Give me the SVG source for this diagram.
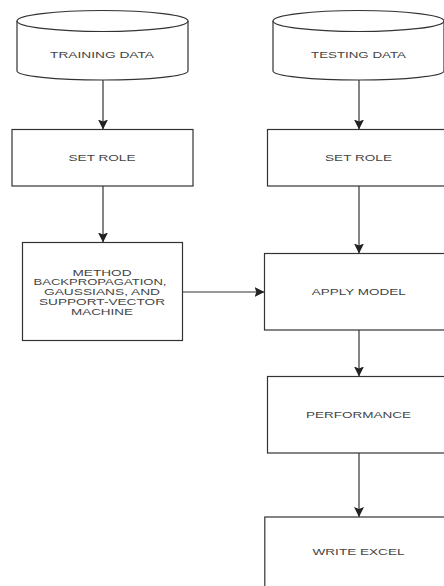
<svg xmlns="http://www.w3.org/2000/svg" width="444" height="586" viewBox="0 0 444 586">
<style>
.shape{fill:#ffffff;stroke:#333333;stroke-width:1.2}
.edge{fill:none;stroke:#333333;stroke-width:1.2}
text{font-family:"Liberation Sans",Arial,sans-serif;font-size:8.6px;fill:#444444;text-anchor:middle;dominant-baseline:central}
</style>
<defs>
<marker id="arr" markerUnits="userSpaceOnUse" markerWidth="10" markerHeight="10" viewBox="0 0 8 8" refX="8" refY="4" orient="auto">
<path d="M0,0 L8,4 L0,8 L1.5,4 Z" fill="#222222"/>
</marker>
</defs>
<rect width="444" height="586" fill="#ffffff"/>
<g id="connectors">
<line class="edge" x1="103" y1="80" x2="103" y2="129.5" marker-end="url(#arr)"/>
<line class="edge" x1="359" y1="80" x2="359" y2="129.5" marker-end="url(#arr)"/>
<line class="edge" x1="103" y1="186" x2="103" y2="242.5" marker-end="url(#arr)"/>
<line class="edge" x1="359" y1="186" x2="359" y2="253.5" marker-end="url(#arr)"/>
<line class="edge" x1="182.5" y1="292" x2="264.5" y2="292" marker-end="url(#arr)"/>
<line class="edge" x1="359" y1="330" x2="359" y2="376.5" marker-end="url(#arr)"/>
<line class="edge" x1="359" y1="453" x2="359" y2="517" marker-end="url(#arr)"/>
</g>
<g id="training-data">
<path class="shape" d="M17,21 A85.5,10.5 0 0 1 188,21 L188,71 A85.5,9 0 0 1 17,71 Z"/>
<path class="edge" d="M17,21 A85.5,10.5 0 0 0 188,21"/>
<text x="102" y="55" textLength="104" lengthAdjust="spacingAndGlyphs">TRAINING DATA</text>
</g>
<g id="testing-data">
<path class="shape" d="M273,21 A85.5,10.5 0 0 1 444,21 L444,71 A85.5,9 0 0 1 273,71 Z"/>
<path class="edge" d="M273,21 A85.5,10.5 0 0 0 444,21"/>
<text x="358.5" y="55" textLength="95" lengthAdjust="spacingAndGlyphs">TESTING DATA</text>
</g>
<g id="set-role-train">
<rect class="shape" x="12" y="129.5" width="181" height="56.5"/>
<text x="102" y="158.3" textLength="67" lengthAdjust="spacingAndGlyphs">SET ROLE</text>
</g>
<g id="set-role-test">
<rect class="shape" x="267.5" y="129.5" width="182" height="56.5"/>
<text x="358.5" y="158.3" textLength="67" lengthAdjust="spacingAndGlyphs">SET ROLE</text>
</g>
<g id="method">
<rect class="shape" x="22.5" y="242.5" width="160" height="98"/>
<text x="102" y="272.5" textLength="59" lengthAdjust="spacingAndGlyphs">METHOD</text>
<text x="100" y="282.3" textLength="133" lengthAdjust="spacingAndGlyphs">BACKPROPAGATION,</text>
<text x="102" y="292" textLength="116" lengthAdjust="spacingAndGlyphs">GAUSSIANS, AND</text>
<text x="102" y="301.7" textLength="126" lengthAdjust="spacingAndGlyphs">SUPPORT-VECTOR</text>
<text x="102" y="311.5" textLength="62" lengthAdjust="spacingAndGlyphs">MACHINE</text>
</g>
<g id="apply-model">
<rect class="shape" x="264.5" y="253.5" width="190" height="76.5"/>
<text x="358.8" y="291.7" textLength="94" lengthAdjust="spacingAndGlyphs">APPLY MODEL</text>
</g>
<g id="performance">
<rect class="shape" x="267.5" y="376.5" width="183" height="76.5"/>
<text x="358.5" y="415" textLength="105" lengthAdjust="spacingAndGlyphs">PERFORMANCE</text>
</g>
<g id="write-excel">
<rect class="shape" x="264.8" y="517" width="190" height="80"/>
<text x="358.5" y="552.3" textLength="92" lengthAdjust="spacingAndGlyphs">WRITE EXCEL</text>
</g>
</svg>
